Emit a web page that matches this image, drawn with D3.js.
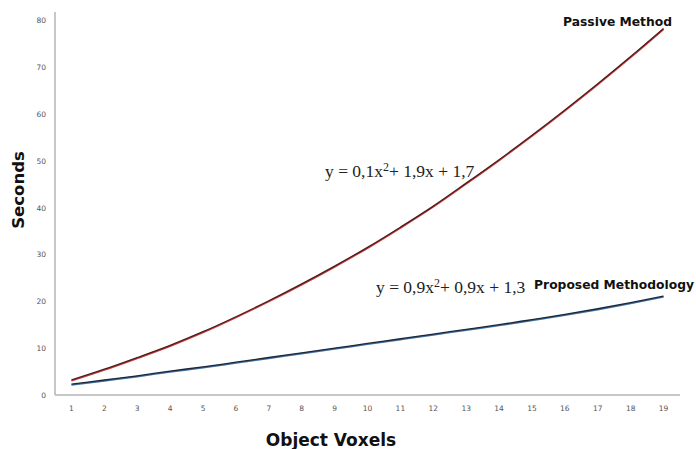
<!DOCTYPE html>
<html>
<head>
    <script src="https://d3js.org/d3.v7.min.js"></script>
    <style>
        body { margin: 0; background: white; }
    </style>
</head>
<body>
    <svg width="696" height="449"></svg>
    <script>
        // values
        const voxels = d3.range(1, 20)
        const passive = [3.2, 5.5, 8.0, 10.6, 13.5, 16.7, 20.1, 23.7, 27.5, 31.5, 35.8, 40.3, 45.2, 50.2, 55.4, 60.8, 66.4, 72.2, 78.2]
        const proposed = [2.3, 3.2, 4.1, 5.1, 6.0, 7.0, 8.0, 9.0, 10.0, 11.0, 12.0, 13.0, 14.0, 15.0, 16.1, 17.2, 18.4, 19.7, 21.1]
        const yTicks = [0, 10, 20, 30, 40, 50, 60, 70, 80]

        const svg = d3.select("svg")
        const plotLeft = 55, plotRight = 680, plotTop = 12, plotBottom = 395

        const x = d3.scaleBand().domain(voxels).range([plotLeft, plotRight])
        const y = d3.scaleLinear().domain([0, 80]).range([plotBottom, 20])

        // axis lines
        svg.append("line").attr("x1", plotLeft).attr("x2", plotLeft).attr("y1", plotTop).attr("y2", plotBottom)
            .attr("stroke", "#b5b5b5").attr("stroke-width", 1.5)
        svg.append("line").attr("x1", plotLeft).attr("x2", plotRight).attr("y1", plotBottom).attr("y2", plotBottom)
            .attr("stroke", "#b5b5b5").attr("stroke-width", 1.5)

        // tick labels
        svg.selectAll(".ytick").data(yTicks).enter().append("text")
            .attr("x", 46).attr("y", d => y(d) + 3)
            .attr("text-anchor", "end")
            .attr("font-family", "DejaVu Sans").attr("font-size", 7.5).attr("fill", "#555")
            .text(d => d)
        svg.selectAll(".xtick").data(voxels).enter().append("text")
            .attr("x", d => x(d) + x.bandwidth() / 2).attr("y", 411)
            .attr("text-anchor", "middle")
            .attr("font-family", "DejaVu Sans").attr("font-size", 7.5).attr("fill", "#555")
            .text(d => d)

        const line = d3.line()
            .x((d, i) => x(voxels[i]) + x.bandwidth() / 2)
            .y(d => y(d))
            .curve(d3.curveMonotoneX)

        // passive: red edge under dark core
        svg.append("path").datum(passive).attr("d", line).attr("fill", "none")
            .attr("stroke", "#d23a3a").attr("stroke-width", 1.7).attr("transform", "translate(0,0.8)")
        svg.append("path").datum(passive).attr("d", line).attr("fill", "none")
            .attr("stroke", "#4a1f1f").attr("stroke-width", 1.3)

        svg.append("path").datum(proposed).attr("d", line).attr("fill", "none")
            .attr("stroke", "#3f6f9f").attr("stroke-width", 1.7).attr("transform", "translate(0,0.8)")
        svg.append("path").datum(proposed).attr("d", line).attr("fill", "none")
            .attr("stroke", "#1c2838").attr("stroke-width", 1.3)

        // series labels
        svg.append("text").attr("x", 672).attr("y", 26).attr("text-anchor", "end")
            .attr("font-family", "DejaVu Sans").attr("font-weight", "bold").attr("font-size", 12.3)
            .attr("fill", "#111").text("Passive Method")
        svg.append("text").attr("x", 694).attr("y", 289).attr("text-anchor", "end")
            .attr("font-family", "DejaVu Sans").attr("font-weight", "bold").attr("font-size", 12.3)
            .attr("fill", "#111").text("Proposed Methodology")

        // equations
        const eq1 = svg.append("text").attr("x", 325).attr("y", 177)
            .attr("font-family", "Liberation Serif").attr("font-size", 17.5).attr("fill", "#222")
        eq1.append("tspan").text("y = 0,1x")
        eq1.append("tspan").attr("dy", -6).attr("font-size", 12).text("2")
        eq1.append("tspan").attr("dy", 6).text("+ 1,9x + 1,7")

        const eq2 = svg.append("text").attr("x", 376).attr("y", 293)
            .attr("font-family", "Liberation Serif").attr("font-size", 17.5).attr("fill", "#222")
        eq2.append("tspan").text("y = 0,9x")
        eq2.append("tspan").attr("dy", -6).attr("font-size", 12).text("2")
        eq2.append("tspan").attr("dy", 6).text("+ 0,9x + 1,3")

        // axis titles
        svg.append("text").attr("transform", "translate(24,190) rotate(-90)")
            .attr("text-anchor", "middle")
            .attr("font-family", "DejaVu Sans").attr("font-weight", "bold").attr("font-size", 16.5)
            .attr("fill", "#111").text("Seconds")
        svg.append("text").attr("x", 331).attr("y", 446).attr("text-anchor", "middle")
            .attr("font-family", "DejaVu Sans").attr("font-weight", "bold").attr("font-size", 17)
            .attr("fill", "#111").text("Object Voxels")
    </script>
</body>
</html>
